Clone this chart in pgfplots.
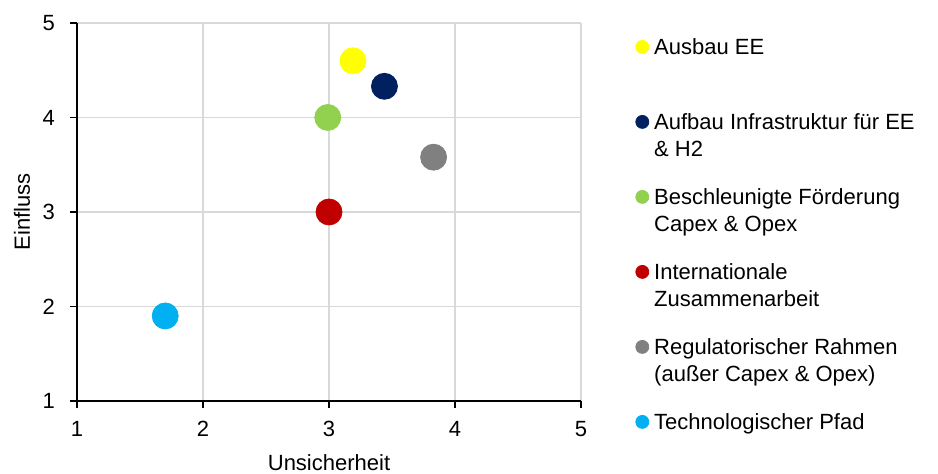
\documentclass[border=0pt]{standalone}
\usepackage{pgfplots}
\pgfplotsset{compat=1.18}
\usepackage{fontspec}
\setmainfont{Liberation Sans}

\definecolor{cYellow}{RGB}{255,255,0}
\definecolor{cNavy}{RGB}{0,32,96}
\definecolor{cGreen}{RGB}{146,208,80}
\definecolor{cRed}{RGB}{192,0,0}
\definecolor{cGrey}{RGB}{128,128,128}
\definecolor{cCyan}{RGB}{0,176,240}
\definecolor{gridgrey}{RGB}{217,217,217}

% legend text hangs down from its first line
\newcommand{\entry}[1]{\parbox[t]{138pt}{\raggedright #1}}

\begin{document}
\begin{tikzpicture}
\begin{axis}[
  scale only axis,
  width=252pt, height=189pt,
  xmin=1, xmax=5, ymin=1, ymax=5,
  xtick={1,2,3,4,5}, ytick={1,2,3,4,5},
  minor xtick={2,3,4,5}, minor ytick={2,3,4,5},
  minor tick length=0pt,
  axis x line*=bottom, axis y line*=left,
  axis line style={black, line width=0.7pt},
  tick align=outside, major tick length=3.5pt,
  major tick style={black, line width=0.7pt},
  xminorgrids, yminorgrids,
  minor grid style={gridgrey, line width=0.8pt},
  font=\fontsize{11}{13.35}\selectfont,
  /pgf/number format/assume math mode=true,
  xticklabel style={yshift=-3pt},
  yticklabel style={xshift=-4pt},
  xlabel={Unsicherheit}, ylabel={Einfluss},
  every axis x label/.style={at={(axis description cs:0.5,-0.164)}, anchor=center},
  every axis y label/.style={at={(axis description cs:-0.109,0.5)}, rotate=90, anchor=center},
  clip=false,
  every axis plot/.append style={only marks, mark=*, mark size=6.5pt},
  % fixed box for the legend image, dot lifted to the first text line
  legend image code/.code={\path (0,-3.25pt) (9pt,3.25pt);
    \fill[#1] (3.25pt,14pt) circle (3.25pt);},
  legend style={at={(1,1)}, anchor=north west, xshift=27pt, yshift=-7pt,
    draw=none, fill=none, inner sep=0pt, row sep=0pt, column sep=0pt,
    nodes={inner sep=0pt, text height=8.5pt, text depth=29pt},
    font=\fontsize{11}{13.35}\selectfont},
  legend cell align=left,
]
\addplot[cYellow] coordinates {(3.19,4.60)};
\addlegendentry{\entry{Ausbau EE}}
\addplot[cNavy] coordinates {(3.44,4.33)};
\addlegendentry{\entry{Aufbau Infrastruktur für EE\\\& H2}}
\addplot[cGreen] coordinates {(2.99,4.00)};
\addlegendentry{\entry{Beschleunigte Förderung\\Capex \& Opex}}
\addplot[cRed] coordinates {(3.00,3.00)};
\addlegendentry{\entry{Internationale\\Zusammenarbeit}}
\addplot[cGrey] coordinates {(3.83,3.58)};
\addlegendentry{\entry{Regulatorischer Rahmen\\(außer Capex \& Opex)}}
\addplot[cCyan] coordinates {(1.70,1.90)};
\addlegendentry{\entry{Technologischer Pfad}}
\coordinate (bbsw) at (rel axis cs:-0.1528,-0.1931);
\coordinate (bbne) at (rel axis cs:1.7083,1.0608);
\end{axis}
\pgfresetboundingbox
\useasboundingbox (bbsw) rectangle (bbne);
\end{tikzpicture}
\end{document}
